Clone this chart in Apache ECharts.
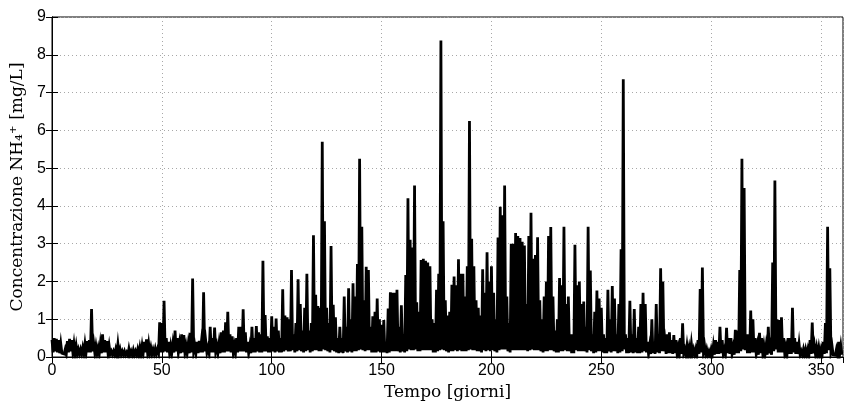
<!doctype html>
<html>
<head>
    <meta charset="utf-8">
    <title>Concentrazione NH4+</title>
    <script src="https://cdn.jsdelivr.net/npm/echarts@6/dist/echarts.min.js"></script>
    <style>
        html, body { margin: 0; padding: 0; background: #fff; }
        #Chart { width: 844px; height: 406px; }
    </style>
</head>
<body>
    <div id="Chart"></div>
<script>
    // massimo giornaliero (giorni 0..359)
    var dailyHigh = [
        0.45, 0.5, 0.48, 0.45, 0.35, 0.15, 0.2, 0.42, 0.48, 0.45,
        0.35, 0.3, 0.2, 0.2, 0.25, 0.35, 0.42, 0.45, 1.27, 0.35,
        0.3, 0.25, 0.35, 0.6, 0.45, 0.42, 0.3, 0.15, 0.15, 0.2,
        0.34, 0.2, 0.15, 0.15, 0.12, 0.22, 0.15, 0.18, 0.15, 0.2,
        0.25, 0.3, 0.4, 0.47, 0.35, 0.25, 0.2, 0.22, 0.2, 0.92,
        0.9, 1.49, 0.5, 0.4, 0.3, 0.35, 0.7, 0.5, 0.35, 0.6,
        0.58, 0.3, 0.35, 0.64, 2.08, 0.3, 0.4, 0.43, 0.4, 1.71,
        0.4, 0.25, 0.8, 0.5, 0.78, 0.3, 0.35, 0.65, 0.7, 0.92,
        1.2, 0.6, 0.55, 0.3, 0.5, 0.8, 0.8, 1.26, 0.65, 0.4,
        0.3, 0.8, 0.5, 0.82, 0.65, 0.6, 2.55, 1.11, 0.55, 0.5,
        1.08, 0.8, 1.02, 0.7, 0.5, 1.79, 1.1, 1.05, 1.0, 2.3,
        0.6, 0.9, 2.06, 1.4, 0.7, 1.3, 2.2, 0.7, 0.9, 3.22,
        1.65, 1.35, 1.3, 5.7, 3.59, 1.3, 0.9, 2.94, 1.38, 1.05,
        0.5, 0.8, 0.5, 1.6, 0.8, 1.82, 1.0, 1.95, 1.6, 2.46,
        5.25, 3.45, 1.5, 2.39, 2.3, 0.8, 1.08, 1.2, 1.55, 1.0,
        0.85, 0.98, 0.4, 1.28, 1.71, 1.7, 1.7, 1.78, 0.8, 1.37,
        0.6, 2.17, 4.2, 3.1, 2.9, 4.54, 1.45, 1.2, 2.57, 2.6,
        2.55, 2.5, 2.4, 1.0, 0.9, 1.78, 2.2, 8.38, 3.59, 1.5,
        1.1, 1.2, 1.91, 2.13, 1.9, 2.59, 2.2, 2.2, 1.6, 2.4,
        6.25, 3.13, 2.4, 1.5, 1.3, 1.1, 2.32, 1.7, 2.77, 2.0,
        2.4, 1.7, 1.0, 3.16, 3.98, 3.75, 4.54, 1.6, 0.9, 3.0,
        3.0, 3.28, 3.2, 3.15, 3.05, 2.95, 1.4, 3.2, 3.82, 2.6,
        2.7, 3.17, 1.5, 1.0, 1.6, 2.0, 3.2, 3.44, 1.6, 0.7,
        1.0, 2.09, 1.9, 3.45, 1.4, 1.6, 0.6, 0.6, 2.97, 1.9,
        2.0, 1.4, 1.47, 0.8, 3.45, 2.29, 0.6, 1.2, 1.76, 1.55,
        1.3, 0.6, 0.5, 1.78, 1.0, 1.88, 1.55, 0.6, 1.4, 2.85,
        7.35, 0.6, 0.5, 1.49, 0.6, 1.27, 0.5, 0.8, 1.4, 1.7,
        1.4, 0.4, 0.3, 1.0, 0.4, 1.4, 0.6, 2.35, 2.0, 0.4,
        0.6, 0.65, 0.45, 0.58, 0.45, 0.25, 0.5, 0.89, 0.2, 0.3,
        0.25, 0.35, 0.2, 0.2, 0.45, 1.8, 2.37, 0.3, 0.2, 0.15,
        0.2, 0.3, 0.45, 0.4, 0.8, 0.45, 0.2, 0.77, 0.5, 0.5,
        0.25, 0.72, 0.7, 2.3, 5.25, 4.47, 0.6, 0.6, 1.23, 1.0,
        0.5, 0.3, 0.64, 0.5, 0.3, 0.3, 0.8, 0.3, 2.5, 4.67,
        1.0, 0.98, 1.05, 0.5, 0.25, 0.5, 0.5, 1.3, 0.5, 0.4,
        0.35, 0.15, 0.2, 0.2, 0.2, 0.45, 0.91, 0.3, 0.25, 0.25,
        0.2, 0.4, 0.9, 3.45, 2.35, 0.3, 0.1, 0.2, 0.4, 0.3
    ];

    // minimo giornaliero (giorni 0..359)
    var dailyLow = [
        .12, .15, .12, .10, .10, .08, .08, .12, .15, .12,
        .10, .08, .08, .08, .10, .12, .12, .12, .15, .10,
        .10, .08, .10, .12, .12, .10, .08, .06, .06, .06,
        .08, .06, .06, .05, .05, .06, .05, .05, .06, .06,
        .08, .10, .12, .12, .10, .08, .08, .08, .10, .12,
        .12, .15, .12, .10, .10, .12, .15, .12, .10, .12,
        .12, .10, .10, .12, .15, .10, .10, .12, .12, .15,
        .12, .10, .12, .12, .15, .10, .10, .12, .12, .15,
        .15, .12, .12, .10, .12, .15, .15, .15, .12, .10,
        .10, .12, .12, .15, .12, .12, .15, .15, .12, .12,
        .15, .12, .15, .12, .12, .15, .18, .15, .15, .18,
        .12, .15, .18, .15, .12, .15, .18, .12, .15, .18,
        .18, .15, .15, .20, .18, .15, .12, .18, .15, .12,
        .10, .12, .10, .15, .12, .15, .12, .15, .15, .18,
        .20, .18, .15, .18, .18, .12, .12, .12, .15, .12,
        .12, .12, .10, .12, .15, .15, .15, .15, .12, .15,
        .12, .15, .20, .18, .18, .20, .15, .15, .18, .18,
        .18, .18, .18, .12, .12, .15, .18, .20, .18, .15,
        .12, .15, .15, .18, .15, .18, .15, .15, .15, .18,
        .20, .18, .18, .15, .15, .12, .18, .15, .18, .15,
        .18, .15, .12, .18, .20, .20, .20, .15, .12, .18,
        .18, .18, .18, .18, .18, .18, .15, .18, .20, .18,
        .18, .18, .15, .12, .15, .15, .18, .18, .15, .12,
        .12, .15, .15, .18, .15, .15, .10, .10, .18, .15,
        .15, .15, .15, .12, .18, .15, .10, .12, .15, .15,
        .12, .10, .10, .15, .12, .15, .15, .10, .12, .15,
        .20, .10, .10, .12, .10, .12, .10, .10, .12, .15,
        .12, .08, .08, .10, .08, .12, .10, .15, .15, .08,
        .10, .10, .08, .10, .08, .06, .08, .10, .05, .06,
        .06, .08, .05, .05, .08, .12, .15, .06, .05, .05,
        .05, .06, .08, .08, .10, .08, .06, .10, .08, .08,
        .06, .10, .10, .15, .20, .18, .10, .10, .12, .12,
        .08, .06, .10, .08, .06, .06, .10, .06, .15, .20,
        .12, .12, .12, .08, .06, .08, .08, .12, .08, .08,
        .06, .05, .05, .05, .05, .08, .10, .06, .05, .05,
        .05, .08, .10, .18, .15, .06, .05, .05, .08, .06
    ];

    var xTicks = [0, 50, 100, 150, 200, 250, 300, 350];
    var yTicks = [0, 1, 2, 3, 4, 5, 6, 7, 8, 9];

    var serie = [];
    for (var i = 0; i < dailyHigh.length; i++) {
        serie.push([i, dailyHigh[i]]);
        serie.push([i + 0.5, dailyLow[i]]);
    }

    var myChart = echarts.init(document.getElementById('Chart'), null, { renderer: 'canvas' });

    var tickFont = { fontFamily: 'Liberation Sans', fontSize: 16, color: '#000' };
    var gridLine = { show: true, lineStyle: { color: '#a8a8a8', width: 1, type: [1, 3] } };

    var option = {
        animation: false,
        backgroundColor: '#fff',
        grid: {
            left: 52, right: 1, top: 17, bottom: 49,
            show: true, borderColor: '#000', borderWidth: 1, backgroundColor: 'transparent'
        },
        xAxis: [{
            type: 'value',
            min: xTicks[0],
            max: 360,
            interval: 50,
            position: 'bottom',
            name: 'Tempo [giorni]',
            nameLocation: 'middle',
            nameGap: 27,
            nameTextStyle: { fontFamily: 'DejaVu Serif', fontSize: 17, color: '#000' },
            axisLine: { show: true, onZero: false, lineStyle: { color: '#000', width: 1 } },
            axisTick: { show: true, inside: true, length: 6, lineStyle: { color: '#000' } },
            axisLabel: Object.assign({ margin: 6, showMaxLabel: false }, tickFont),
            splitLine: gridLine
        }, {
            type: 'value',
            min: xTicks[0],
            max: 360,
            interval: 50,
            position: 'top',
            axisLine: { show: true, lineStyle: { color: '#000', width: 1 } },
            axisTick: { show: true, inside: true, length: 6, lineStyle: { color: '#000' } },
            axisLabel: { show: false },
            splitLine: { show: false }
        }],
        yAxis: [{
            type: 'value',
            min: yTicks[0],
            max: yTicks[yTicks.length - 1],
            interval: 1,
            position: 'left',
            name: 'Concentrazione NH\u2084\u207A [mg/L]',
            nameLocation: 'middle',
            nameGap: 26,
            nameTextStyle: { fontFamily: 'DejaVu Serif', fontSize: 17, color: '#000' },
            axisLine: { show: true, onZero: false, lineStyle: { color: '#000', width: 1 } },
            axisTick: { show: true, inside: true, length: 6, lineStyle: { color: '#000' } },
            axisLabel: Object.assign({ margin: 6 }, tickFont),
            splitLine: gridLine
        }, {
            type: 'value',
            min: yTicks[0],
            max: yTicks[yTicks.length - 1],
            interval: 1,
            position: 'right',
            axisLine: { show: true, lineStyle: { color: '#000', width: 1 } },
            axisTick: { show: true, inside: true, length: 6, lineStyle: { color: '#000' } },
            axisLabel: { show: false },
            splitLine: { show: false }
        }],
        series: [{
            name: 'NH4+',
            type: 'line',
            data: serie,
            xAxisIndex: 0,
            yAxisIndex: 0,
            symbol: 'none',
            smooth: false,
            lineStyle: { color: '#000', width: 2.8, join: 'miter' }
        }]
    };
    myChart.setOption(option);
</script>
</body>
</html>
